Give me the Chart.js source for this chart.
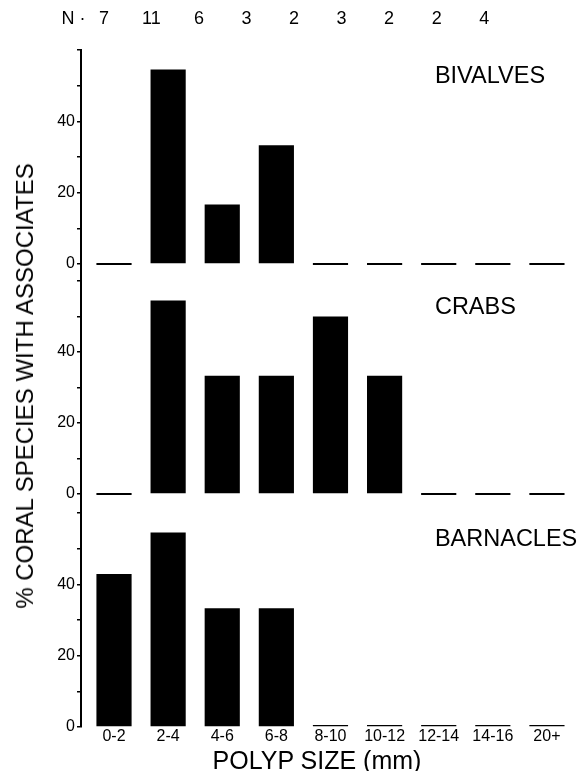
<!DOCTYPE html>
<html><head><meta charset="utf-8">
<script src="https://cdn.jsdelivr.net/npm/chart.js@4.4.0/dist/chart.umd.min.js"></script>
<style>
html,body{margin:0;padding:0;background:#fff;}
#wrap{position:relative;width:581px;height:771px;overflow:hidden;background:#fff;}
canvas{position:absolute;left:0;}
#ytitle{position:absolute;left:25px;top:386px;transform:translate(-50%,-50%) rotate(-90deg);font:24px "Liberation Sans",Arial,sans-serif;white-space:nowrap;color:#000;}
#xtitle{position:absolute;left:317px;top:760px;transform:translate(-50%,-50%);font:25px/1 "Liberation Sans",Arial,sans-serif;white-space:nowrap;color:#000;}
</style></head><body>
<div id="wrap">
<canvas id="cA" width="581" height="281" style="top:0px"></canvas>
<canvas id="cB" width="581" height="242" style="top:271px"></canvas>
<canvas id="cC" width="581" height="268" style="top:503px"></canvas>
<div id="ytitle">% CORAL SPECIES WITH ASSOCIATES</div>
<div id="xtitle">POLYP SIZE (mm)</div>
</div>
<script>
// ---- data ----
const categories = ['0-2','2-4','4-6','6-8','8-10','10-12','12-14','14-16','20+'];
const nCounts = ['7','11','6','3','2','3','2','2','4'];
const nPrefix = 'N ·';
const bivalves  = [0, 54.5, 16.7, 33.3, 0, 0, 0, 0, 0];
const crabs     = [0, 54.5, 33.3, 33.3, 50, 33.3, 0, 0, 0];
const barnacles = [42.9, 54.5, 33.3, 33.3, 0, 0, 0, 0, 0];
const panelNames = ['BIVALVES', 'CRABS', 'BARNACLES'];
const yTickValues = [0, 10, 20, 30, 40, 50, 60];
const yLabelled = [0, 20, 40];

const FONT = '"Liberation Sans", Arial, sans-serif';
Chart.defaults.font.family = FONT;
Chart.defaults.color = '#000';

const panelLabel = {
  id: 'panelLabel',
  afterDatasetsDraw(chart, args, opts) {
    const {ctx} = chart;
    const x = chart.scales.x.getPixelForValue(5.93);
    const y = chart.scales.y.getPixelForValue(52.5);
    ctx.save();
    ctx.font = '23.5px ' + FONT;
    ctx.fillStyle = '#000';
    ctx.textAlign = 'left';
    ctx.textBaseline = 'middle';
    ctx.fillText(opts.text, x, y);
    ctx.restore();
  }
};

function makePanel(id, values, name, yMin, opt) {
  const scales = {
    x: {
      type: 'linear', min: -0.61, max: 8.5, bounds: 'data', offset: false,
      display: !!opt.showX,
      grid: {display: false, drawTicks: false, offset: false},
      border: {display: false},
      ticks: {
        autoSkip: false, maxRotation: 0, padding: 0,
        font: {size: 16},
        callback: (v, i) => categories[i] !== undefined ? categories[i] : ''
      },
      afterBuildTicks: s => { s.ticks = categories.map((c, i) => ({value: i})); },
      afterFit: s => { if (opt.showX) s.height = 44; }
    },
    y: {
      type: 'linear', min: yMin, max: 60, bounds: 'data',
      grid: {drawOnChartArea: false, drawTicks: true, tickLength: 4, color: '#000', lineWidth: 1.5},
      border: {display: true, color: '#000', width: 2},
      ticks: {
        autoSkip: false, padding: 2,
        font: {size: 16},
        callback: v => yLabelled.includes(v) ? String(v) : ''
      },
      afterBuildTicks: s => { s.ticks = yTickValues.map(v => ({value: v})); },
      afterFit: s => { s.width = 81; s.paddingTop = 0; s.paddingBottom = 0; }
    }
  };
  if (opt.showN) {
    scales.n = {
      type: 'linear', position: 'top', axis: 'x', min: -0.482, max: 9.89, bounds: 'data', offset: false,
      grid: {display: false, drawTicks: false},
      border: {display: false},
      ticks: {autoSkip: false, maxRotation: 0, padding: 20, font: {size: 18},
        callback: (v, i) => i === 0 ? nPrefix : nCounts[i - 1]},
      afterBuildTicks: s => { s.ticks = [{value: -0.64}].concat(nCounts.map((c, i) => ({value: i}))); },
      afterFit: s => { s.height = 50; }
    };
  }
  return new Chart(document.getElementById(id), {
    type: 'bar',
    data: {
      datasets: [{
        label: name,
        data: values.map((v, i) => ({x: i, y: v})),
        xAxisID: 'x',
        yAxisID: 'y',
        backgroundColor: '#000',
        borderWidth: 0,
        minBarLength: 2,
        barPercentage: 0.65,
        categoryPercentage: 1.0
      }]
    },
    options: {
      responsive: false,
      animation: false,
      devicePixelRatio: 1,
      layout: {padding: {left: 0, right: 7, top: opt.padTop || 0, bottom: 0}},
      plugins: {legend: {display: false}, tooltip: {enabled: false}, panelLabel: {text: name}},
      scales
    },
    plugins: [panelLabel]
  });
}

makePanel('cA', bivalves, panelNames[0], -4.77, {showN: true});
makePanel('cB', crabs, panelNames[1], -5.35, {padTop: 10});
makePanel('cC', barnacles, panelNames[2], 0, {padTop: 10, showX: true});
</script>
</body></html>
